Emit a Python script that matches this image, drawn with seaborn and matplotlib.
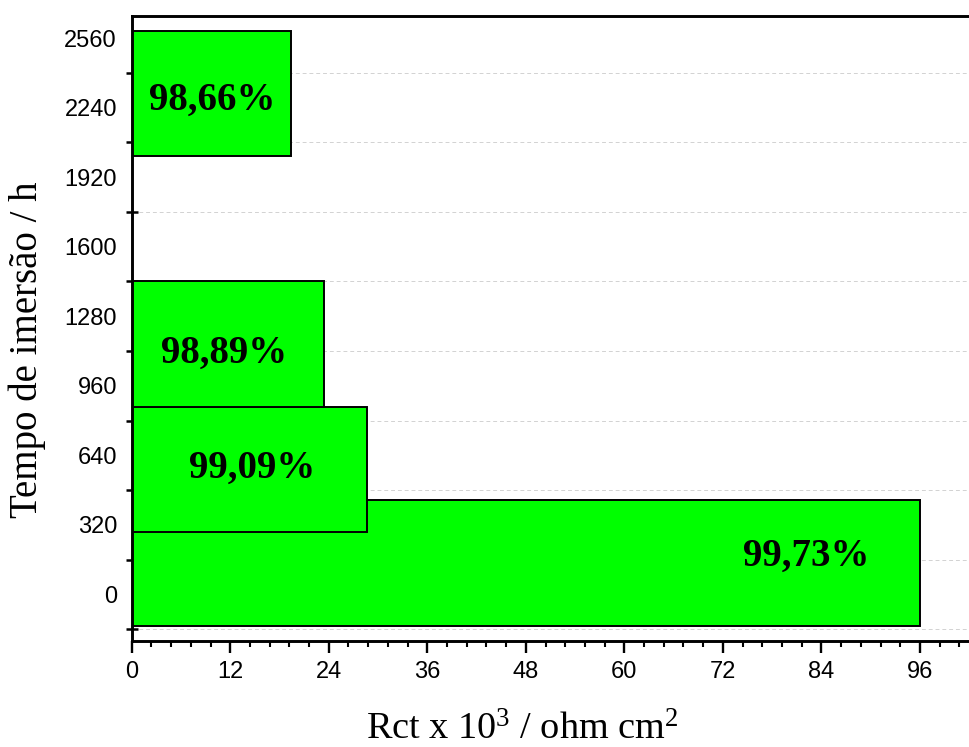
import numpy as np
import pandas as pd
import matplotlib
matplotlib.use("Agg")
import matplotlib.pyplot as plt
from matplotlib.ticker import MultipleLocator
import seaborn as sns

# ---- data ----
times = [144, 576, 1152, 2304]            # immersion time (h)
rct = [96.0, 28.62, 23.46, 19.36]         # Rct x 10^3 / ohm cm^2
efficiency = ["99,73%", "99,09%", "98,89%", "98,66%"]
label_x = [82.2, 14.65, 11.27, 9.84]      # annotation anchors (data units)
label_y = [130, 535, 1065, 2230]
ytick_vals = [0, 320, 640, 960, 1280, 1600, 1920, 2240, 2560]
xtick_vals = [0, 12, 24, 36, 48, 60, 72, 84, 96]

bar_span = 576  # bar thickness in hours

df = pd.DataFrame({"time": times, "rct": rct})

sns.set_theme(style="white")
plt.rcParams["font.family"] = ["Liberation Sans", "DejaVu Sans"]
plt.rcParams["mathtext.fontset"] = "custom"
plt.rcParams["mathtext.rm"] = "Liberation Serif"
plt.rcParams["mathtext.it"] = "Liberation Serif:italic"
plt.rcParams["mathtext.bf"] = "Liberation Serif:bold"
for k in ["text.color", "axes.labelcolor", "xtick.color", "ytick.color"]:
    plt.rcParams[k] = "black"

W, H = 970, 747
fig = plt.figure(figsize=(W / 100, H / 100), dpi=100)
left_px, right_px, top_px, bot_px = 131.7, 970, 16, 641
ax = fig.add_axes([left_px / W, 1 - bot_px / H, (right_px - left_px) / W, (bot_px - top_px) / H])

min_gap = np.min(np.diff(sorted(times)))
sns.barplot(data=df, x="rct", y="time", orient="h", native_scale=True,
            width=bar_span / min_gap, color="#00ff00", saturation=1,
            edgecolor="black", linewidth=1.4, errorbar=None, ax=ax)

ax.set_xlim(0, 102.1)
ax.set_ylim(-215.2, 2662.4)

# y axis: labels between tick marks
ax.set_yticks(ytick_vals)
ax.set_yticklabels([str(v) for v in ytick_vals])
ax.set_yticks(np.array(ytick_vals) - 160, minor=True)
ax.tick_params(axis="y", which="major", length=0, pad=10.6, labelsize=17, left=True,
               labelcolor="black")
ax.tick_params(axis="y", which="minor", direction="inout", length=8.6, width=1.8,
               color="black", left=True)

# x axis
ax.set_xticks(xtick_vals)
ax.set_xticklabels([str(v) for v in xtick_vals])
ax.xaxis.set_minor_locator(MultipleLocator(2.4))
ax.tick_params(axis="x", which="major", direction="out", length=8.6, width=1.7,
               pad=5.5, labelsize=17, bottom=True, color="black", labelcolor="black")
ax.tick_params(axis="x", which="minor", direction="out", length=4.2, width=1.5,
               bottom=True, color="black")

ax.grid(False)
ax.yaxis.grid(True, which="minor", linestyle=(0, (4, 3)), color="#d2d2d2", linewidth=0.7)
ax.set_axisbelow(True)

for s in ["top", "left", "bottom"]:
    ax.spines[s].set_visible(True)
    ax.spines[s].set_linewidth(2.1)
    ax.spines[s].set_color("black")
ax.spines["right"].set_visible(False)

for x, y, t in zip(label_x, label_y, efficiency):
    ax.text(x, y, t, ha="center", va="baseline", fontsize=28, fontweight="bold",
            family=["Liberation Serif", "DejaVu Serif"], color="black", zorder=5)

ax.set_xlabel(r"Rct x 10$^{3}$ / ohm cm$^{2}$", fontsize=27.5, color="black",
              family=["Liberation Serif", "DejaVu Serif"])
ax.xaxis.label.set_va("baseline")
ax.xaxis.set_label_coords((522 - left_px) / (right_px - left_px), (bot_px - 740) / (bot_px - top_px))

ax.set_ylabel("Tempo de imersão / h", fontsize=28, color="black",
              family=["Liberation Serif", "DejaVu Serif"])
ax.yaxis.label.set_va("center")
ax.yaxis.set_label_coords((27 - left_px) / (right_px - left_px), (bot_px - 350) / (bot_px - top_px))

fig.savefig("out.png", dpi=100)
